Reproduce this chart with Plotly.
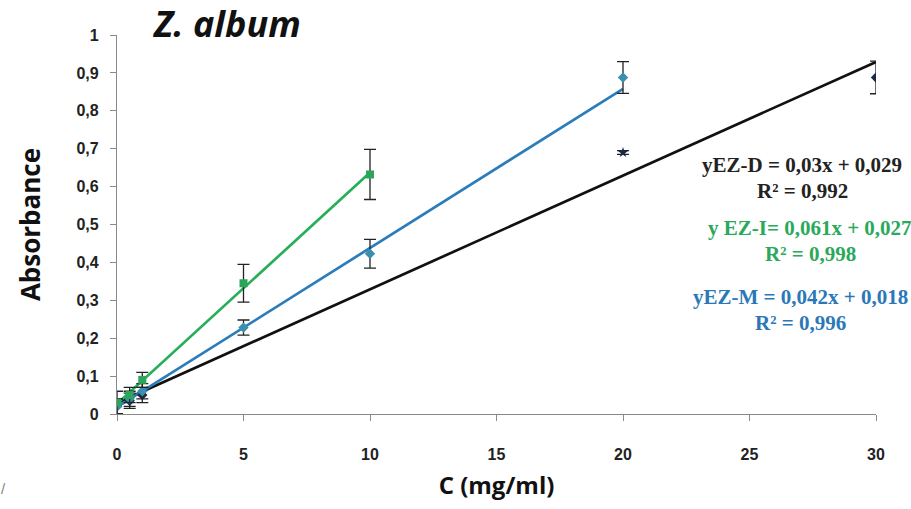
import plotly.graph_objects as go

# ---- data ----
x_I = [0, 0.5, 1, 5, 10]
y_I = [0.03, 0.05, 0.09, 0.345, 0.632]
e_I = [0.03, 0.02, 0.02, 0.05, 0.066]

x_M = [0, 0.5, 1, 5, 10, 20]
y_M = [0.02, 0.04, 0.06, 0.228, 0.423, 0.888]
e_M = [0.02, 0.02, 0.02, 0.02, 0.038, 0.042]

x_D = [0, 0.5, 1, 20, 30]
y_D = [0.02, 0.035, 0.05, 0.69, 0.888]
e_D = [0.02, 0.02, 0.02, 0.005, 0.043]

# trendline coefficients (slope, intercept, x_end)
fit_I = (0.061, 0.027, 10)
fit_M = (0.042, 0.018, 20)
fit_D = (0.03, 0.029, 30)

x_ticks = [0, 5, 10, 15, 20, 25, 30]
y_ticks = [0, 0.1, 0.2, 0.3, 0.4, 0.5, 0.6, 0.7, 0.8, 0.9, 1]
y_ticktext = ["0", "0,1", "0,2", "0,3", "0,4", "0,5", "0,6", "0,7", "0,8", "0,9", "1"]

GREEN = "#27ae5a"
BLUE = "#2b7cba"
BLACK = "#111111"

fig = go.Figure()

def trend(fit, color):
    m, b, xe = fit
    fig.add_trace(go.Scatter(x=[0, xe], y=[b, m * xe + b], mode="lines",
                             line=dict(color=color, width=2.7),
                             hoverinfo="skip", showlegend=False))

trend(fit_D, BLACK)
trend(fit_M, BLUE)
trend(fit_I, GREEN)

err_style = dict(type="data", visible=True, color="#222222", thickness=1.3, width=6)

fig.add_trace(go.Scatter(x=x_D, y=y_D, mode="markers",
                         marker=dict(symbol=["diamond", "diamond", "diamond", "star", "diamond"],
                                     size=8, color="#1a2a44"),
                         error_y=dict(array=e_D, **err_style), showlegend=False))
fig.add_trace(go.Scatter(x=x_M, y=y_M, mode="markers",
                         marker=dict(symbol="diamond", size=8, color="#3a8fae"),
                         error_y=dict(array=e_M, **err_style), showlegend=False))
fig.add_trace(go.Scatter(x=x_I, y=y_I, mode="markers",
                         marker=dict(symbol="square", size=8, color="#2aa55a"),
                         error_y=dict(array=e_I, **err_style), showlegend=False))

tick_font = dict(family="Liberation Sans Narrow, Arial Narrow, Liberation Sans, sans-serif",
                 size=16, color="#222222", weight="bold")
eq_font = "Liberation Serif, Times New Roman, serif"

fig.update_layout(
    width=911, height=509,
    margin=dict(l=117, r=35, t=35, b=95),
    paper_bgcolor="white", plot_bgcolor="white",
    separators=",.",
    xaxis=dict(range=[0, 30], tickvals=x_ticks, showgrid=False, zeroline=False,
               showline=True, linecolor="#8a8a8a", linewidth=1.2,
               ticks="outside", ticklen=6, tickcolor="#8a8a8a",
               tickfont=tick_font, ticklabelstandoff=20,
               title=dict(text="<b>C (mg/ml)</b>", standoff=14,
                          font=dict(family="Open Sans, sans-serif", size=24, color="#111"))),
    yaxis=dict(range=[0, 1], tickvals=y_ticks, ticktext=y_ticktext, showgrid=False,
               zeroline=False, showline=True, linecolor="#8a8a8a", linewidth=1.2,
               ticks="outside", ticklen=6, tickcolor="#8a8a8a",
               tickfont=tick_font, ticklabelstandoff=8,
               title=dict(text="<b>Absorbance</b>", standoff=28,
                          font=dict(family="Open Sans, sans-serif", size=26, color="#111"))),
)

ann = [
    ("<b><i>Z. album</i></b>", 226, 24, "#111111", "Open Sans, sans-serif", 36),
    ("<b>yEZ-D = 0,03x + 0,029</b>", 802, 165, "#222222", eq_font, 21),
    ("<b>R² = 0,992</b>", 802, 191, "#222222", eq_font, 21),
    ("<b>y EZ-I= 0,061x + 0,027</b>", 810, 228, "#2aa95a", eq_font, 21),
    ("<b>R² = 0,998</b>", 810, 254, "#2aa95a", eq_font, 21),
    ("<b>yEZ-M = 0,042x + 0,018</b>", 800, 297, "#2b78b8", eq_font, 21),
    ("<b>R² = 0,996</b>", 800, 323, "#2b78b8", eq_font, 21),
    ("/", 4, 488, "#888888", "Liberation Sans, sans-serif", 15),
]
for text, px, py, col, fam, sz in ann:
    fig.add_annotation(text=text, xref="paper", yref="paper",
                       x=(px - 117) / (911 - 117 - 35),
                       y=1 - (py - 35) / (509 - 35 - 95),
                       xanchor="center", yanchor="middle", showarrow=False,
                       font=dict(family=fam, size=sz, color=col))

fig.write_html("out.html")
